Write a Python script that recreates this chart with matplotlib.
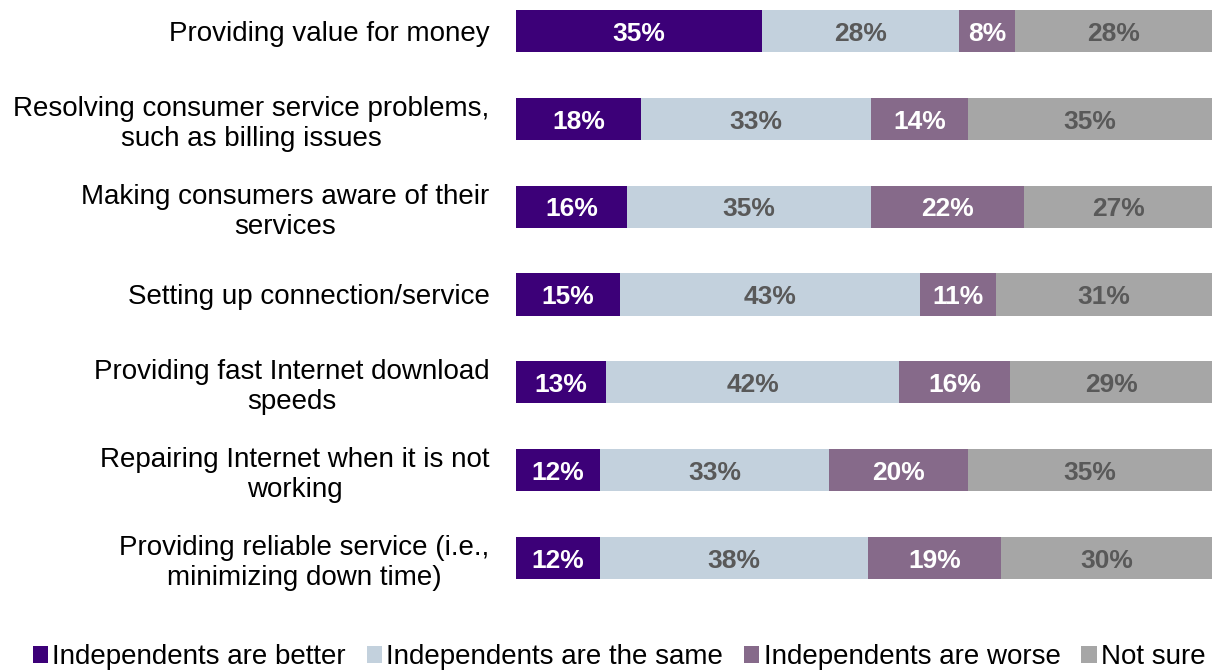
import matplotlib
matplotlib.use('Agg')
import matplotlib.pyplot as plt
import numpy as np

plt.rcParams['font.family'] = ['Liberation Sans', 'DejaVu Sans']

categories = [
    "Providing value for money",
    "Resolving consumer service problems,\nsuch as billing issues",
    "Making consumers aware of their\nservices",
    "Setting up connection/service",
    "Providing fast Internet download\nspeeds",
    "Repairing Internet when it is not\nworking",
    "Providing reliable service (i.e.,\nminimizing down time)",
]
better = [35, 18, 16, 15, 13, 12, 12]
same = [28, 33, 35, 43, 42, 33, 38]
worse = [8, 14, 22, 11, 16, 20, 19]
not_sure = [28, 35, 27, 31, 29, 35, 30]

series_names = ["Independents are better", "Independents are the same",
                "Independents are worse", "Not sure"]
colors = ["#3C0078", "#C3D1DD", "#866A8A", "#A6A6A6"]
text_colors = ["white", "#595959", "white", "#595959"]

values = np.array([better, same, worse, not_sure], dtype=float)
totals = values.sum(axis=0)
shares = values / totals * 100  # 100% stacked bars

fig = plt.figure(figsize=(12.31, 6.71), dpi=100)
ax = fig.add_axes([516 / 1231, 1 - 579 / 671, 696 / 1231, 569 / 671])

y = np.arange(len(categories))
left = np.zeros(len(categories))
handles = []
for i, name in enumerate(series_names):
    bars = ax.barh(y, shares[i], left=left, height=0.48, color=colors[i],
                   label=name, edgecolor='none')
    handles.append(bars)
    for j in range(len(categories)):
        ax.text(left[j] + shares[i][j] / 2, y[j] + 0.03, f"{int(values[i][j])}%",
                ha='center', va='center', fontsize=19, fontweight='bold',
                color=text_colors[i])
    left += shares[i]

ax.set_xlim(0, 100)
ax.set_ylim(6.24, -0.24)
ax.set_yticks(y)
ax.set_yticklabels(categories, fontsize=20, ha='right', multialignment='center',
                   linespacing=1.2)
ax.tick_params(axis='y', length=0, pad=19)
ax.set_xticks([])
for s in ax.spines.values():
    s.set_visible(False)

fig.legend(handles=handles, labels=series_names, loc='lower center',
           bbox_to_anchor=(0.503, -0.036), ncol=4, frameon=False, fontsize=20,
           handlelength=0.55, handleheight=0.55, handletextpad=0.15,
           columnspacing=0.75)

fig.savefig('out.png', dpi=100)
plt.close(fig)
